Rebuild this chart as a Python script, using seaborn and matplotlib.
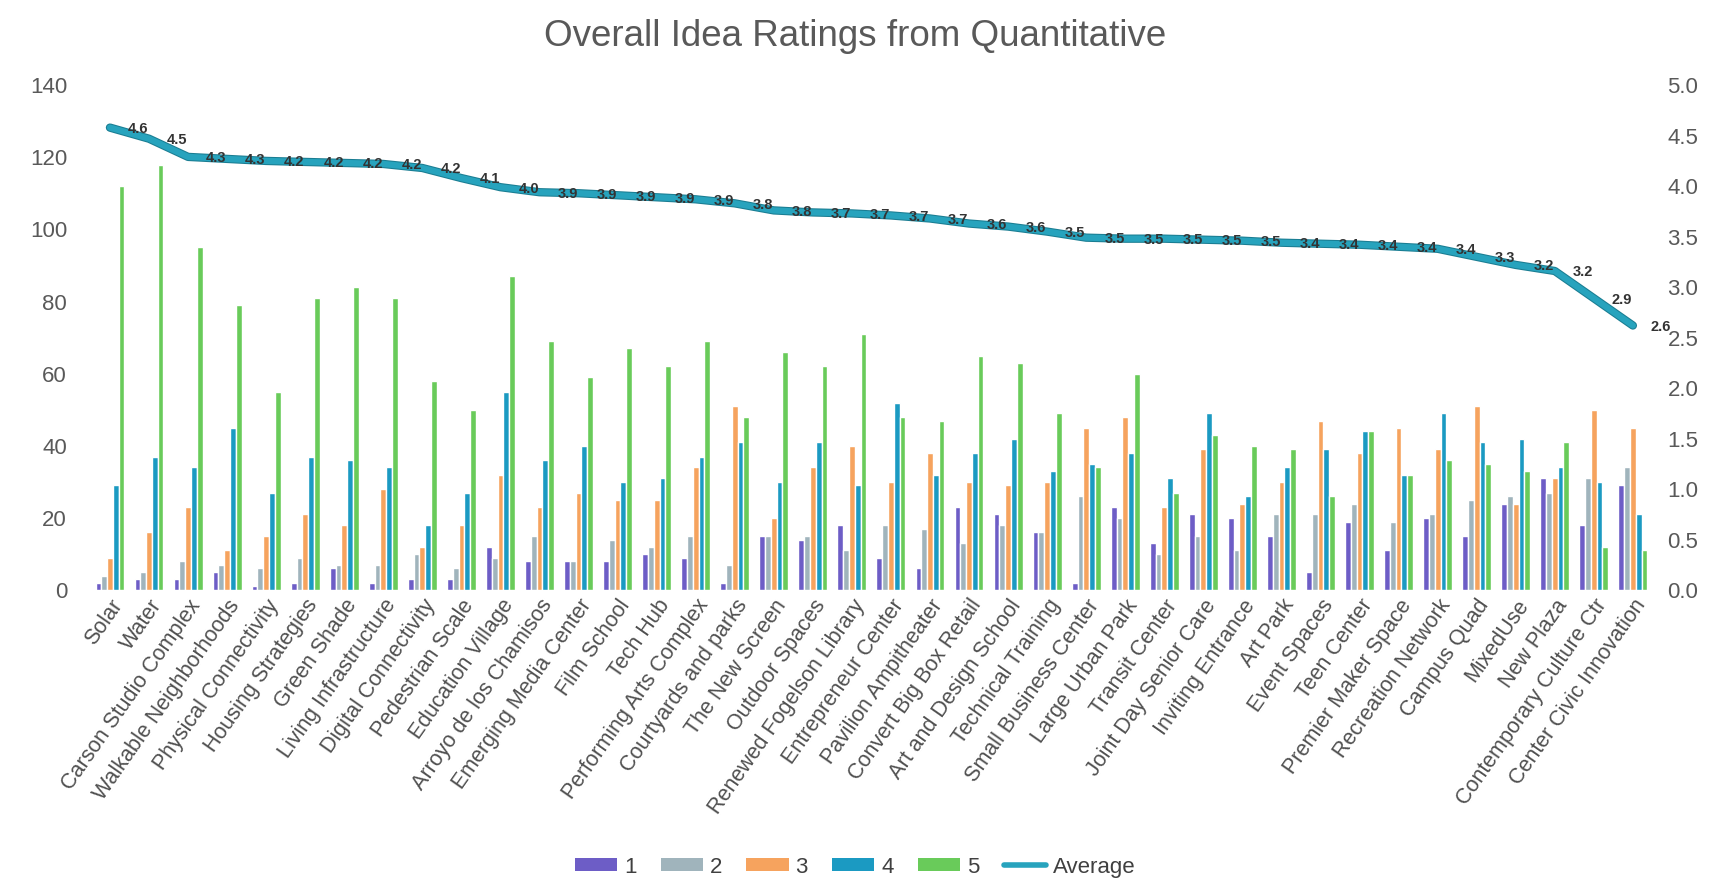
import numpy as np
import pandas as pd
import matplotlib
matplotlib.use('Agg')
import matplotlib.pyplot as plt
import matplotlib.patheffects as pe
from matplotlib.patches import Patch
from matplotlib.lines import Line2D
import seaborn as sns

categories = ['Solar', 'Water', 'Carson Studio Complex', 'Walkable Neighborhoods',
              'Physical Connectivity', 'Housing Strategies', 'Green Shade',
              'Living Infrastructure', 'Digital Connectivity', 'Pedestrian Scale',
              'Education Village', 'Arroyo de los Chamisos', 'Emerging Media Center',
              'Film School', 'Tech Hub', 'Performing Arts Complex', 'Courtyards and parks',
              'The New Screen', 'Outdoor Spaces', 'Renewed Fogelson Library',
              'Entrepreneur Center', 'Pavilion Ampitheater', 'Convert Big Box Retail',
              'Art and Design School', 'Technical Training', 'Small Business Center',
              'Large Urban Park', 'Transit Center', 'Joint Day Senior Care',
              'Inviting Entrance', 'Art Park', 'Event Spaces', 'Teen Center',
              'Premier Maker Space', 'Recreation Network', 'Campus Quad', 'MixedUse',
              'New Plaza', 'Contemporary Culture Ctr', 'Center Civic Innovation']

rating_1 = [2, 3, 3, 5, 1, 2, 6, 2, 3, 3, 12, 8, 8, 8, 10, 9, 2, 15, 14, 18,
            9, 6, 23, 21, 16, 2, 23, 13, 21, 20, 15, 5, 19, 11, 20, 15, 24, 31, 18, 29]
rating_2 = [4, 5, 8, 7, 6, 9, 7, 7, 10, 6, 9, 15, 8, 14, 12, 15, 7, 15, 15, 11,
            18, 17, 13, 18, 16, 26, 20, 10, 15, 11, 21, 21, 24, 19, 21, 25, 26, 27, 31, 34]
rating_3 = [9, 16, 23, 11, 15, 21, 18, 28, 12, 18, 32, 23, 27, 25, 25, 34, 51, 20, 34, 40,
            30, 38, 30, 29, 30, 45, 48, 23, 39, 24, 30, 47, 38, 45, 39, 51, 24, 31, 50, 45]
rating_4 = [29, 37, 34, 45, 27, 37, 36, 34, 18, 27, 55, 36, 40, 30, 31, 37, 41, 30, 41, 29,
            52, 32, 38, 42, 33, 35, 38, 31, 49, 26, 34, 39, 44, 32, 49, 41, 42, 34, 30, 21]
rating_5 = [112, 118, 95, 79, 55, 81, 84, 81, 58, 50, 87, 69, 59, 67, 62, 69, 48, 66, 62, 71,
            48, 47, 65, 63, 49, 34, 60, 27, 43, 40, 39, 26, 44, 32, 36, 35, 33, 41, 12, 11]

average = [4.58, 4.47, 4.29, 4.27, 4.25, 4.24, 4.23, 4.22, 4.18, 4.08,
           3.99, 3.94, 3.93, 3.91, 3.89, 3.87, 3.83, 3.76, 3.74, 3.73,
           3.71, 3.68, 3.63, 3.60, 3.55, 3.49, 3.48, 3.48, 3.47, 3.46,
           3.44, 3.43, 3.42, 3.40, 3.38, 3.30, 3.22, 3.16, 2.89, 2.62]

ratings = ['1', '2', '3', '4', '5']
colors = ['#6d5dc6', '#a0b4bc', '#f6a35e', '#1b9ac2', '#69cb5a']
line_color = '#27a3bd'

df = pd.DataFrame({'Idea': categories, '1': rating_1, '2': rating_2, '3': rating_3,
                   '4': rating_4, '5': rating_5})
long = df.melt(id_vars='Idea', var_name='Rating', value_name='Count')

sns.set_style('white')
plt.rcParams['font.family'] = ['Liberation Sans', 'DejaVu Sans']

fig = plt.figure(figsize=(17.1, 8.82), dpi=100)
ax = fig.add_axes([0.0506, 0.331, 0.918, 0.5724])

sns.barplot(data=long, x='Idea', y='Count', hue='Rating', hue_order=ratings,
            order=categories, palette=colors, width=0.74, ax=ax, legend=False,
            saturation=1)
ax.set_xlim(-0.6, len(categories) - 0.4)
ax.set_ylim(0, 140)
ax.set_yticks(range(0, 141, 20))
ax.set_xlabel('')
ax.set_ylabel('')
ax.tick_params(axis='y', length=0, pad=14, labelsize=16, labelcolor='#595959')
ax.tick_params(axis='x', length=0, pad=4)
ax.set_xticks(range(len(categories)))
ax.set_xticklabels(categories, rotation=55, ha='right', rotation_mode='anchor',
                   fontsize=15.5, color='#505050')
for s in ax.spines.values():
    s.set_visible(False)

ax2 = ax.twinx()
x = np.arange(len(categories))
sns.lineplot(x=x, y=average, ax=ax2, color=line_color, linewidth=4.5,
             path_effects=[pe.Stroke(linewidth=6, foreground='#1a7d92'), pe.Normal()])
ax2.set_ylim(0, 5)
ax2.set_yticks(np.arange(0, 5.01, 0.5))
ax2.set_yticklabels([f'{v:.1f}' for v in np.arange(0, 5.01, 0.5)])
ax2.tick_params(axis='y', length=0, pad=8, labelsize=16, labelcolor='#595959')
ax2.set_xlim(-0.6, len(categories) - 0.4)
for s in ax2.spines.values():
    s.set_visible(False)

for xi, v in zip(x, average):
    ax2.annotate(f'{v:.1f}', (xi, v), xytext=(13, -1), textcoords='offset points',
                 ha='left', va='center', fontsize=10.5, fontweight='bold', color='#333333')

fig.suptitle('Overall Idea Ratings from Quantitative', y=0.978, fontsize=26.5,
             color='#595959')

handles = [Patch(facecolor=c, edgecolor='none') for c in colors]
handles.append(Line2D([0], [0], color=line_color, linewidth=4))
fig.legend(handles, ratings + ['Average'], loc='center', bbox_to_anchor=(0.5, 0.017),
           ncol=6, frameon=False, fontsize=16, handlelength=1.9, handleheight=0.5,
           columnspacing=1.1, handletextpad=0.3, labelcolor='#404040')

fig.savefig('out.png', dpi=100)
